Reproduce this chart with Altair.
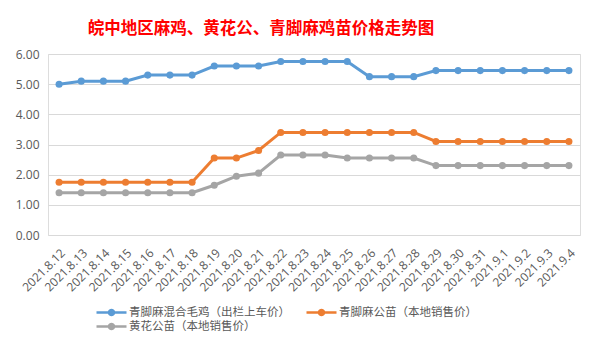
import altair as alt
import pandas as pd

dates = ["2021.8.12", "2021.8.13", "2021.8.14", "2021.8.15", "2021.8.16", "2021.8.17",
         "2021.8.18", "2021.8.19", "2021.8.20", "2021.8.21", "2021.8.22", "2021.8.23",
         "2021.8.24", "2021.8.25", "2021.8.26", "2021.8.27", "2021.8.28", "2021.8.29",
         "2021.8.30", "2021.8.31", "2021.9.1", "2021.9.2", "2021.9.3", "2021.9.4"]

series_names = ["青脚麻混合毛鸡（出栏上车价）", "青脚麻公苗（本地销售价）", "黄花公苗（本地销售价）"]

mixed_broiler = [5.00, 5.10, 5.10, 5.10, 5.30, 5.30, 5.30, 5.60, 5.60, 5.60, 5.75, 5.75,
                 5.75, 5.75, 5.25, 5.25, 5.25, 5.45, 5.45, 5.45, 5.45, 5.45, 5.45, 5.45]
qingjiao_chick = [1.75, 1.75, 1.75, 1.75, 1.75, 1.75, 1.75, 2.55, 2.55, 2.80, 3.40, 3.40,
                  3.40, 3.40, 3.40, 3.40, 3.40, 3.10, 3.10, 3.10, 3.10, 3.10, 3.10, 3.10]
huanghua_chick = [1.40, 1.40, 1.40, 1.40, 1.40, 1.40, 1.40, 1.65, 1.95, 2.05, 2.65, 2.65,
                  2.65, 2.55, 2.55, 2.55, 2.55, 2.30, 2.30, 2.30, 2.30, 2.30, 2.30, 2.30]

colors = ["#5B9BD5", "#ED7D31", "#A5A5A5"]
y_ticks = [0, 1, 2, 3, 4, 5, 6]

rows = []
for name, vals in zip(series_names, [mixed_broiler, qingjiao_chick, huanghua_chick]):
    for d, v in zip(dates, vals):
        rows.append({"date": d, "price": v, "series": name})
df = pd.DataFrame(rows)

font = "Noto Sans CJK SC"

x_enc = alt.X("date:N", sort=dates, scale=alt.Scale(type="point", padding=0.5),
              axis=alt.Axis(title=None, labelAngle=-45, labelFontSize=12, labelColor="#595959",
                            labelFont="Open Sans", ticks=False, domain=False, grid=False,
                            labelPadding=12))
y_enc = alt.Y("price:Q", scale=alt.Scale(domain=[0, 6], nice=False),
              axis=alt.Axis(title=None, values=y_ticks, format=".2f", labelFontSize=12,
                            labelColor="#595959", labelFont="Open Sans", ticks=False,
                            domain=False, gridColor="#D9D9D9", gridWidth=1, labelPadding=9))

# line-with-marker legend glyph (unit coordinates, scaled by sqrt(symbolSize)/2)
legend_path = ("M-2,-0.16 L-0.474,-0.16 A0.5,0.5 0 0,1 0.474,-0.16 L2,-0.16 L2,0.16 "
               "L0.474,0.16 A0.5,0.5 0 0,1 -0.474,0.16 L-2,0.16 Z")

legend = alt.Legend(title=None, orient="none", legendX=56, legendY=251, direction="horizontal",
                    columns=2, columnPadding=16, rowPadding=1,
                    symbolType=legend_path, symbolSize=225,
                    symbolStrokeWidth=0, labelFont=font, labelFontSize=11.5, labelLimit=300,
                    labelColor="#595959", labelOffset=10, padding=0)

color_enc = alt.Color("series:N", sort=series_names,
                      scale=alt.Scale(domain=series_names, range=colors), legend=legend)

lines = alt.Chart(df).mark_line(strokeWidth=3).encode(x=x_enc, y=y_enc, color=color_enc)
points = alt.Chart(df).mark_point(filled=True, size=50, opacity=1, shape="circle").encode(
    x=x_enc, y=y_enc, color=color_enc)

chart = alt.layer(lines, points).properties(
    width=532, height=181,
    padding={"left": 40, "top": 46, "right": 10, "bottom": 112},
    autosize=alt.AutoSizeParams(type="none"),
    title=alt.TitleParams(text="皖中地区麻鸡、黄花公、青脚麻鸡苗价格走势图", anchor="middle",
                          frame="group", dx=-53, offset=11, font=font, fontSize=16.5,
                          fontWeight="bold", color="#FF0000"),
).configure_view(stroke=None).configure(background="white")

chart.save("out.html", embed_options={"renderer": "svg", "actions": False})
